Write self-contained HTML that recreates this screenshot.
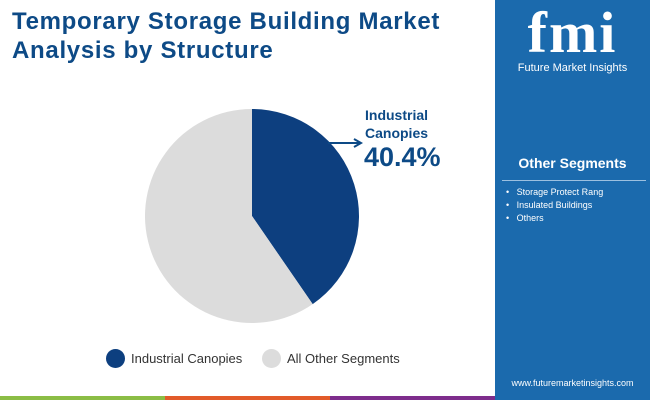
<!DOCTYPE html>
<html><head><meta charset="utf-8"><style>
body{margin:0;width:650px;height:400px;overflow:hidden;background:#fff;font-family:"Liberation Sans",sans-serif;position:relative}
.abs{position:absolute}
</style></head><body>
<div class="abs" style="left:12px;top:7px;font-size:24px;letter-spacing:0.7px;font-weight:bold;color:#0d4a86;line-height:29px">Temporary Storage Building Market<br>Analysis by Structure</div>
<div class="abs" style="left:495px;top:0;width:155px;height:400px;background:#1b6aad"></div>
<div class="abs" style="left:495px;top:4px;width:155px;text-align:center;color:#fff">
<div style="font-size:58px;font-weight:bold;font-family:'Liberation Serif',serif;line-height:58px;letter-spacing:2px">fmi</div>
<div style="font-size:11px">Future Market Insights</div></div>
<div class="abs" style="left:495px;top:155px;width:155px;text-align:center;color:#fff;font-weight:bold;font-size:14px">Other Segments</div>
<div class="abs" style="left:502px;top:180px;width:144px;height:1px;background:#9cc0e0"></div>
<div class="abs" style="left:506px;top:186px;color:#fff;font-size:9px;line-height:13px">• &nbsp;&nbsp;Storage Protect Rang<br>• &nbsp;&nbsp;Insulated Buildings<br>• &nbsp;&nbsp;Others</div>
<div class="abs" style="left:495px;top:378px;width:155px;text-align:center;color:#fff;font-size:9px">www.futuremarketinsights.com</div>
<div class="abs" style="left:0;top:396px;width:165px;height:4px;background:#8bbd45"></div>
<div class="abs" style="left:165px;top:396px;width:165px;height:4px;background:#e25b2a"></div>
<div class="abs" style="left:330px;top:396px;width:165px;height:4px;background:#7e2d8c"></div>
<div class="abs" style="left:495px;top:396px;width:155px;height:4px;background:#1b6aad"></div>
<svg class="abs" style="left:0;top:0" width="495" height="400" id="chart"></svg>
<div class="abs" style="left:365px;top:106px;color:#0d4a86;font-weight:bold;font-size:14px;line-height:18px">Industrial<br>Canopies</div>
<div class="abs" style="left:364px;top:142px;color:#0d4a86;font-weight:bold;font-size:27px">40.4%</div>
<div class="abs" style="left:106px;top:349px;font-size:13px;color:#333;display:flex;align-items:center"><span style="width:19px;height:19px;border-radius:50%;background:#0d3f7f;margin-right:6px"></span>Industrial Canopies</div>
<div class="abs" style="left:262px;top:349px;font-size:13px;color:#333;display:flex;align-items:center"><span style="width:19px;height:19px;border-radius:50%;background:#dcdcdc;margin-right:6px"></span>All Other Segments</div>
<script>
const categories=["Industrial Canopies","All Other Segments"];
const values=[40.4,59.6];
const colors=["#0d3f7f","#dcdcdc"];
const svg=document.getElementById('chart');
const cx=252,cy=216,r=107;
let total=values.reduce((a,b)=>a+b,0),a0=0;
values.forEach((v,i)=>{
const a1=a0+v/total*2*Math.PI;
const p=(a)=>[cx+r*Math.sin(a),cy-r*Math.cos(a)];
const [x0,y0]=p(a0),[x1,y1]=p(a1);
const path=document.createElementNS('http://www.w3.org/2000/svg','path');
path.setAttribute('d',`M${cx},${cy}L${x0},${y0}A${r},${r} 0 ${a1-a0>Math.PI?1:0} 1 ${x1},${y1}Z`);
path.setAttribute('fill',colors[i]);


svg.appendChild(path);a0=a1;});
const ln=document.createElementNS('http://www.w3.org/2000/svg','path');
ln.setAttribute('d','M328,143L360,143M354,139L361,143L354,147');
ln.setAttribute('stroke','#0d4a86');ln.setAttribute('stroke-width','2');ln.setAttribute('fill','none');


svg.appendChild(ln);
</script>
</body></html>
